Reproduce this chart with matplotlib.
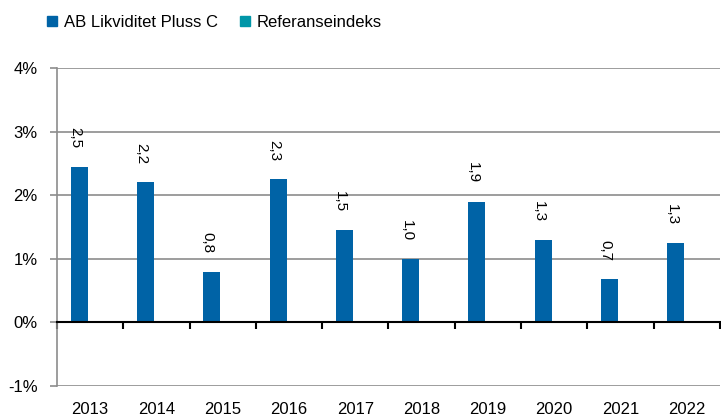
import matplotlib.pyplot as plt
from matplotlib.patches import Patch
from matplotlib.ticker import FixedLocator

years = ['2013', '2014', '2015', '2016', '2017', '2018', '2019', '2020', '2021', '2022']
fund = [2.45, 2.2, 0.8, 2.25, 1.45, 1.0, 1.9, 1.3, 0.68, 1.25]
fund_labels = ['2,5', '2,2', '0,8', '2,3', '1,5', '1,0', '1,9', '1,3', '0,7', '1,3']
yticks = [-1, 0, 1, 2, 3, 4]

plt.rcParams['font.family'] = ['Liberation Sans', 'DejaVu Sans']
blue = '#0063a6'
teal = '#0096a8'
grey = '#8c8c8c'

fig = plt.figure(figsize=(7.21, 4.19), dpi=100)
ax = fig.add_axes([0.079, 0.0788, 0.9196, 0.7589])

x = list(range(len(years)))
xb = [i - 0.166 for i in x]
ax.bar(xb, fund, width=0.256, color=blue, zorder=3)

for xi, v, lab in zip(xb, fund, fund_labels):
    ax.annotate(lab, (xi - 0.06, v), xytext=(0, 13), textcoords='offset points',
                rotation=-90, ha='center', va='bottom', fontsize=11, color='black')

ax.set_xlim(-0.5, len(years) - 0.5)
ax.set_ylim(-1, 4)
ax.set_yticks(yticks)
ax.set_yticklabels([f'{t}%' for t in yticks])
ax.grid(axis='y', color=grey, linewidth=1.2, zorder=0)

for s in ['top', 'right']:
    ax.spines[s].set_visible(False)
ax.spines['left'].set_color(grey)
ax.spines['left'].set_linewidth(1.2)
ax.spines['bottom'].set_position(('data', 0))
ax.spines['bottom'].set_color('black')
ax.spines['bottom'].set_linewidth(1.5)
ax.spines['bottom'].set_zorder(4)

ax.set_xticks(x)
ax.set_xticklabels(years)
ax.xaxis.set_minor_locator(FixedLocator([i - 0.5 for i in range(len(years) + 1)]))
ax.tick_params(axis='x', which='major', length=0, pad=57, labelsize=12)
ax.tick_params(axis='x', which='minor', length=5, width=1.5, color='black', direction='out')
ax.tick_params(axis='y', length=5, width=1.2, color=grey, pad=9, labelsize=12)

handles = [Patch(color=blue, label='AB Likviditet Pluss C'),
           Patch(color=teal, label='Referanseindeks')]
fig.legend(handles=handles, loc='upper left', bbox_to_anchor=(0.045, 1.0), ncol=2,
           frameon=False, fontsize=12, handlelength=0.6, handleheight=0.6,
           handletextpad=0.4, columnspacing=1.3)

fig.savefig('out.png', dpi=100)
